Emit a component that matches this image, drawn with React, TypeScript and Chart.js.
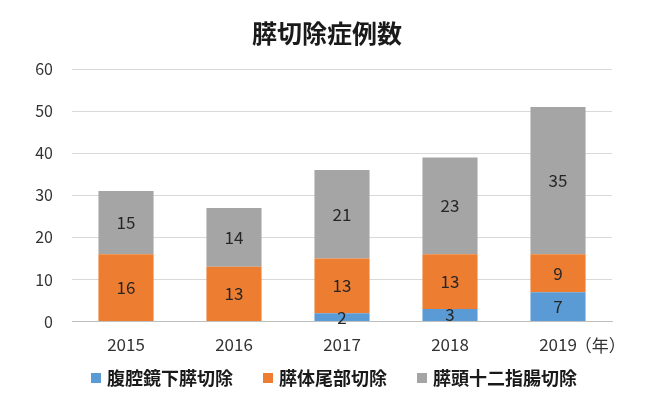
import React, { useEffect, useRef } from "react";
import { Chart, registerables } from "chart.js";

Chart.register(...registerables);

const title = "膵切除症例数";
const categories = ["2015", "2016", "2017", "2018", "2019"];
const yearSuffix = "（年）";
const seriesNames = ["腹腔鏡下膵切除", "膵体尾部切除", "膵頭十二指腸切除"];
const laparoscopic = [0, 0, 2, 3, 7];
const distal = [16, 13, 13, 13, 9];
const pd = [15, 14, 21, 23, 35];
const colors = ["#5B9BD5", "#ED7D31", "#A5A5A5"];

const FONT = "'Noto Sans CJK JP', 'Noto Sans', sans-serif";
const TEXT = "#333333";

const titlePlugin = {
  id: "customTitle",
  afterDraw(chart: any) {
    const ctx = chart.ctx;
    ctx.save();
    ctx.font = `bold 25px ${FONT}`;
    ctx.fillStyle = "#1a1a1a";
    ctx.textAlign = "center";
    ctx.textBaseline = "middle";
    ctx.fillText(title, chart.width / 2 + 2, 33);
    ctx.restore();
  },
};

const legendPlugin = {
  id: "customLegend",
  afterDraw(chart: any) {
    const ctx = chart.ctx;
    ctx.save();
    ctx.font = `bold 18px ${FONT}`;
    ctx.textBaseline = "middle";
    ctx.textAlign = "left";
    const box = 10;
    const gapBox = 6;
    const gapItem = 30;
    const ds = chart.data.datasets;
    const widths = ds.map((d: any) => box + gapBox + ctx.measureText(d.label).width);
    const total = widths.reduce((a: number, b: number) => a + b, 0) + gapItem * (ds.length - 1);
    let x = 334 - total / 2;
    const y = 378;
    ds.forEach((d: any, i: number) => {
      ctx.fillStyle = d.backgroundColor;
      ctx.fillRect(x, y - box / 2, box, box);
      ctx.fillStyle = "#1a1a1a";
      ctx.fillText(d.label, x + box + gapBox, y);
      x += widths[i] + gapItem;
    });
    ctx.restore();
  },
};

const dataLabelPlugin = {
  id: "dataLabels",
  afterDatasetsDraw(chart: any) {
    const ctx = chart.ctx;
    ctx.save();
    ctx.font = `17px ${FONT}`;
    ctx.fillStyle = "#262626";
    ctx.textAlign = "center";
    ctx.textBaseline = "middle";
    chart.data.datasets.forEach((ds: any, di: number) => {
      const meta = chart.getDatasetMeta(di);
      meta.data.forEach((el: any, i: number) => {
        const v = ds.data[i];
        if (!v) return;
        ctx.fillText(String(v), el.x, (el.y + el.base) / 2);
      });
    });
    ctx.restore();
  },
};

const suffixPlugin = {
  id: "yearSuffix",
  afterDraw(chart: any) {
    const ctx = chart.ctx;
    const xs = chart.scales.x;
    const last = categories.length - 1;
    const x = xs.getPixelForTick(last);
    ctx.save();
    ctx.font = `17px ${FONT}`;
    const w = ctx.measureText(categories[last]).width;
    ctx.fillStyle = TEXT;
    ctx.textAlign = "left";
    ctx.textBaseline = "middle";
    ctx.fillText(yearSuffix, x + w / 2 - 2, chart.chartArea.bottom + 24);
    ctx.restore();
  },
};

export default function App() {
  const ref = useRef<HTMLCanvasElement>(null);
  useEffect(() => {
    if (!ref.current) return;
    const chart = new Chart(ref.current, {
      type: "bar",
      data: {
        labels: categories,
        datasets: [
          { label: seriesNames[0], data: laparoscopic, backgroundColor: colors[0] },
          { label: seriesNames[1], data: distal, backgroundColor: colors[1] },
          { label: seriesNames[2], data: pd, backgroundColor: colors[2] },
        ],
      },
      options: {
        responsive: false,
        animation: false,
        layout: { padding: { left: 0, right: 38, top: 69, bottom: 29 } },
        datasets: { bar: { categoryPercentage: 1, barPercentage: 0.51 } },
        plugins: {
          title: { display: false },
          legend: { display: false },
          tooltip: { enabled: false },
        },
        scales: {
          x: {
            stacked: true,
            grid: { display: false, drawTicks: false },
            border: { color: "#BFBFBF", width: 1 },
            ticks: { color: TEXT, font: { family: FONT, size: 17 }, padding: 13 },
          },
          y: {
            stacked: true,
            min: 0,
            max: 60,
            afterFit(scale: any) {
              scale.width = 72;
            },
            grid: { color: "#D9D9D9", drawTicks: false },
            border: { display: false },
            ticks: { stepSize: 10, color: TEXT, font: { family: FONT, size: 16 }, padding: 19 },
          },
        },
      },
      plugins: [titlePlugin, dataLabelPlugin, suffixPlugin, legendPlugin],
    } as any);
    return () => chart.destroy();
  }, []);
  return (
    <div style={{ position: "absolute", left: 0, top: 0, width: 650, height: 397, background: "#fff" }}>
      <canvas ref={ref} width={650} height={397} />
    </div>
  );
}
